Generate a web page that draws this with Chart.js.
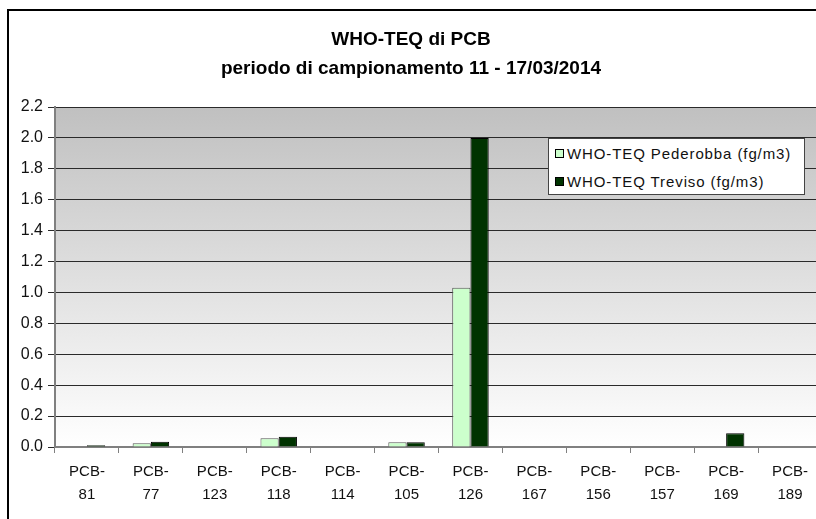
<!DOCTYPE html>
<html lang="it">
    <head>
        <meta charset="UTF-8" />
        <title>WHO-TEQ di PCB</title>
        <script src="https://cdn.jsdelivr.net/npm/chart.js"></script>
        <style>
            body { margin: 0; overflow: hidden; background: #fff; width: 816px; height: 519px; position: relative; }
            #frame { position: absolute; left: 7px; top: 9px; width: 900px; height: 600px; border: 2px solid #000; box-sizing: border-box; }
            #pcbChart { position: absolute; left: 0; top: 0; }
            #legend { position: absolute; left: 548px; top: 138px; width: 257px; height: 57px; box-sizing: border-box;
                      background: #fff; border: 1px solid #444; font-family: "Liberation Sans", Arial, sans-serif;
                      font-size: 15px; letter-spacing: 0.9px; color: #111; }
            #legend .item { position: absolute; left: 6px; height: 20px; line-height: 20px; white-space: nowrap; }
            #legend .box { display: inline-block; width: 7px; height: 7px; border: 1px solid #000; margin-right: 3px; vertical-align: 1px; }
        </style>
    </head>
    <body>
        <div id="frame"></div>
        <canvas id="pcbChart" width="830" height="519"></canvas>
        <div id="legend"></div>
        <script>
            const labels = [
                ["PCB-", "81"], ["PCB-", "77"], ["PCB-", "123"], ["PCB-", "118"],
                ["PCB-", "114"], ["PCB-", "105"], ["PCB-", "126"], ["PCB-", "167"],
                ["PCB-", "156"], ["PCB-", "157"], ["PCB-", "169"], ["PCB-", "189"],
            ];
            const pederobba = [0, 0.024, 0, 0.056, 0, 0.03, 1.03, 0, 0, 0, 0, 0];
            const treviso = [0.012, 0.034, 0, 0.067, 0, 0.031, 2.0, 0, 0, 0, 0.089, 0];
            const seriesNames = ["WHO-TEQ Pederobba (fg/m3)", "WHO-TEQ Treviso (fg/m3)"];
            const yTicks = [0, 0.2, 0.4, 0.6, 0.8, 1.0, 1.2, 1.4, 1.6, 1.8, 2.0, 2.2];

            // sfondo grigio sfumato dell'area del grafico
            const plotBackground = {
                id: "plotBackground",
                beforeDraw(chart) {
                    const { ctx, chartArea } = chart;
                    const g = ctx.createLinearGradient(0, chartArea.top, 0, chartArea.bottom);
                    g.addColorStop(0, "#c0c0c0");
                    g.addColorStop(1, "#ffffff");
                    ctx.save();
                    ctx.fillStyle = g;
                    ctx.fillRect(chartArea.left, chartArea.top, chartArea.right - chartArea.left, chartArea.bottom - chartArea.top);
                    ctx.restore();
                },
            };

            const ctx = document.getElementById("pcbChart").getContext("2d");
            const chart = new Chart(ctx, {
                type: "bar",
                data: {
                    labels: labels,
                    datasets: [
                        {
                            label: seriesNames[0],
                            data: pederobba,
                            backgroundColor: "#ccffcc",
                            borderColor: "#555",
                            borderWidth: 1,
                        },
                        {
                            label: seriesNames[1],
                            data: treviso,
                            backgroundColor: "#003300",
                            borderColor: "#000",
                            borderWidth: 1,
                        },
                    ],
                },
                options: {
                    responsive: false,
                    animation: false,
                    layout: { padding: { left: 0, right: 8, top: 0, bottom: 0 } },
                    plugins: {
                        legend: { display: false },
                        tooltip: { enabled: false },
                        title: {
                            display: true,
                            text: ["WHO-TEQ di PCB", "periodo di campionamento 11 - 17/03/2014"],
                            color: "#000",
                            font: { family: "Liberation Sans", size: 19, weight: "bold", lineHeight: 1.5 },
                            padding: { top: 26, bottom: 24 },
                        },
                    },
                    datasets: {
                        bar: { categoryPercentage: 0.571, barPercentage: 1.0 },
                    },
                    scales: {
                        x: {
                            afterFit(scale) { scale.height = 72; },
                            grid: {
                                display: true,
                                drawOnChartArea: false,
                                drawTicks: true,
                                tickLength: 6,
                                color: "#808080",
                                offset: true,
                            },
                            border: { display: true, color: "#808080", width: 2 },
                            ticks: {
                                autoSkip: false,
                                maxRotation: 0,
                                padding: 8,
                                color: "#111",
                                font: { family: "Liberation Sans", size: 15, lineHeight: 1.5 },
                            },
                        },
                        y: {
                            min: 0,
                            max: 2.2,
                            afterFit(scale) { scale.width = 55; },
                            afterBuildTicks(scale) {
                                scale.ticks = yTicks.map((v) => ({ value: v }));
                            },
                            grid: { color: "#2a2a2a", lineWidth: 1, tickLength: 7, drawTicks: true },
                            border: { display: true, color: "#808080", width: 2 },
                            ticks: {
                                padding: 5,
                                color: "#111",
                                font: { family: "Liberation Sans", size: 16 },
                                callback: function (value) {
                                    return Number(value).toFixed(1);
                                },
                            },
                        },
                    },
                },
                plugins: [plotBackground],
            });

            // legenda con riquadro bianco come nell'originale
            const legend = document.getElementById("legend");
            chart.data.datasets.forEach((ds, i) => {
                const item = document.createElement("div");
                item.className = "item";
                item.style.top = 5 + i * 28 + "px";
                const box = document.createElement("span");
                box.className = "box";
                box.style.background = ds.backgroundColor;
                item.appendChild(box);
                item.appendChild(document.createTextNode(ds.label));
                legend.appendChild(item);
            });
        </script>
    </body>
</html>
